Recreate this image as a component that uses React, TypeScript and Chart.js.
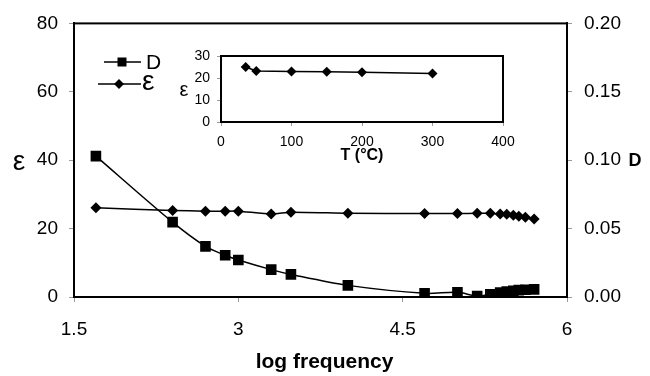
import React, { useEffect, useRef } from "react";
import { Chart, registerables } from "chart.js";
Chart.register(...registerables);

// ---- data ----
const logFreq = [1.7, 2.4, 2.7, 2.88, 3.0, 3.3, 3.48, 4.0, 4.7, 5.0, 5.18, 5.3, 5.39, 5.45, 5.51, 5.56, 5.62, 5.7];
const epsMain = [26.1, 25.3, 25.1, 25.1, 25.1, 24.3, 24.8, 24.5, 24.4, 24.4, 24.5, 24.5, 24.3, 24.2, 23.9, 23.6, 23.3, 22.8];
const dMain = [0.103, 0.0547, 0.037, 0.0305, 0.027, 0.02, 0.0165, 0.0085, 0.0027, 0.0034, 0.0007, 0.002, 0.0033, 0.004, 0.0045, 0.005, 0.0053, 0.0056];

const insetT = [35, 50, 100, 150, 200, 300];
const insetEps = [25.0, 23.2, 23.0, 22.8, 22.6, 22.1];

const xTitle = "log frequency";
const leftTitle = "ε";
const rightTitle = "D";
const insetXTitle = "T (°C)";
const insetYTitle = "ε";
const legendLabels = ["D", "ε"];

const FONT = "'Liberation Sans', Arial, Helvetica, sans-serif";

export default function App() {
  const mainRef = useRef<HTMLCanvasElement>(null);
  const insetRef = useRef<HTMLCanvasElement>(null);

  useEffect(() => {
    const tickFont = { family: FONT, size: 19 };
    const grid = { drawOnChartArea: false, drawTicks: true, tickLength: 5, tickColor: "#9a9a9a" };
    const border = { color: "#000", width: 2 };

    const mainPlugin = {
      id: "mainDecor",
      afterDraw(chart: any) {
        const { ctx, chartArea: a } = chart;
        ctx.save();
        ctx.strokeStyle = "#000";
        ctx.lineWidth = 2;
        ctx.strokeRect(a.left, a.top, a.right - a.left, a.bottom - a.top);
        ctx.fillStyle = "#000";
        ctx.textAlign = "center";
        ctx.textBaseline = "middle";
        ctx.font = `bold 21px ${FONT}`;
        ctx.fillText(xTitle, (a.left + a.right) / 2 + 4, 362);
        ctx.font = `28px ${FONT}`;
        ctx.fillText(leftTitle, 19, 162);
        ctx.font = `bold 18px ${FONT}`;
        ctx.fillText(rightTitle, 635, 161);
        // legend
        ctx.lineWidth = 1.5;
        ctx.beginPath();
        ctx.moveTo(104, 62);
        ctx.lineTo(141, 62);
        ctx.moveTo(98, 84);
        ctx.lineTo(141, 84);
        ctx.stroke();
        ctx.fillRect(122 - 4.5, 62 - 4.5, 9, 9);
        ctx.beginPath();
        ctx.moveTo(119, 84 - 5);
        ctx.lineTo(119 + 5, 84);
        ctx.lineTo(119, 84 + 5);
        ctx.lineTo(119 - 5, 84);
        ctx.closePath();
        ctx.fill();
        ctx.textAlign = "left";
        ctx.font = `21px ${FONT}`;
        ctx.fillText(legendLabels[0], 146, 63);
        ctx.font = `28px ${FONT}`;
        ctx.fillText(legendLabels[1], 142, 82);
        ctx.restore();
      },
    };

    const main = new Chart(mainRef.current!, {
      type: "line",
      data: {
        datasets: [
          {
            label: "D",
            data: logFreq.map((x, i) => ({ x, y: dMain[i] })),
            yAxisID: "y1",
            borderColor: "#000",
            backgroundColor: "#000",
            borderWidth: 1.5,
            pointStyle: "rect",
            pointRadius: 7.5,
            pointBorderWidth: 0,
            tension: 0.3,
          },
          {
            label: "ε",
            data: logFreq.map((x, i) => ({ x, y: epsMain[i] })),
            yAxisID: "y",
            borderColor: "#000",
            backgroundColor: "#000",
            borderWidth: 1.5,
            pointStyle: "rectRot",
            pointRadius: 5.5,
            pointBorderWidth: 0,
            tension: 0.2,
          },
        ],
      },
      options: {
        responsive: false,
        animation: false,
        layout: { padding: { top: 22, left: 0, right: 0, bottom: 0 } },
        plugins: { legend: { display: false }, tooltip: { enabled: false } },
        scales: {
          x: {
            type: "linear",
            min: 1.5,
            max: 6,
            ticks: { stepSize: 1.5, font: tickFont, color: "#000", padding: 16, callback: (v: any) => String(v) },
            grid,
            border,
            afterFit: (s: any) => { s.height = 79; },
          },
          y: {
            position: "left",
            min: 0,
            max: 80,
            ticks: { stepSize: 20, font: tickFont, color: "#000", padding: 11 },
            grid,
            border,
            afterFit: (s: any) => { s.width = 74; },
          },
          y1: {
            position: "right",
            min: 0,
            max: 0.2,
            ticks: { stepSize: 0.05, font: tickFont, color: "#000", padding: 12, callback: (v: any) => Number(v).toFixed(2) },
            grid,
            border,
            afterFit: (s: any) => { s.width = 83; },
          },
        },
      },
      plugins: [mainPlugin],
    } as any);

    const insetFont = { family: FONT, size: 14 };
    const insetGrid = { drawOnChartArea: false, drawTicks: true, tickLength: 4, tickColor: "#9a9a9a" };
    const insetPlugin = {
      id: "insetDecor",
      beforeDraw(chart: any) {
        const { ctx, chartArea: a } = chart;
        ctx.save();
        ctx.fillStyle = "#fff";
        ctx.fillRect(a.left, a.top, a.right - a.left, a.bottom - a.top);
        ctx.restore();
      },
      afterDraw(chart: any) {
        const { ctx, chartArea: a } = chart;
        ctx.save();
        ctx.strokeStyle = "#000";
        ctx.lineWidth = 2;
        ctx.strokeRect(a.left, a.top, a.right - a.left, a.bottom - a.top);
        ctx.fillStyle = "#000";
        ctx.textAlign = "center";
        ctx.textBaseline = "middle";
        ctx.font = `bold 16px ${FONT}`;
        ctx.fillText(insetXTitle, (a.left + a.right) / 2, 156);
        ctx.font = `20px ${FONT}`;
        ctx.fillText(insetYTitle, 184, 90);
        ctx.restore();
      },
    };

    const inset = new Chart(insetRef.current!, {
      type: "line",
      data: {
        datasets: [
          {
            label: "ε",
            data: insetT.map((x, i) => ({ x, y: insetEps[i] })),
            borderColor: "#000",
            backgroundColor: "#000",
            borderWidth: 1.5,
            pointStyle: "rectRot",
            pointRadius: 5,
            pointBorderWidth: 0,
            tension: 0,
          },
        ],
      },
      options: {
        responsive: false,
        animation: false,
        layout: { padding: { top: 56, left: 0, right: 147, bottom: 0 } },
        plugins: { legend: { display: false }, tooltip: { enabled: false } },
        scales: {
          x: {
            type: "linear",
            min: 0,
            max: 400,
            ticks: { stepSize: 100, font: insetFont, color: "#000", padding: 8 },
            grid: insetGrid,
            border,
            afterFit: (s: any) => { s.height = 254; },
          },
          y: {
            min: 0,
            max: 30,
            ticks: { stepSize: 10, font: insetFont, color: "#000", padding: 7 },
            grid: insetGrid,
            border,
            afterFit: (s: any) => { s.width = 221; },
          },
        },
      },
      plugins: [insetPlugin],
    } as any);

    return () => {
      main.destroy();
      inset.destroy();
    };
  }, []);

  const canvasStyle: React.CSSProperties = { position: "absolute", left: 0, top: 0, width: 650, height: 376 };
  return (
    <div style={{ position: "fixed", left: 0, top: 0, width: 650, height: 376, background: "#fff" }}>
      <canvas ref={mainRef} width={650} height={376} style={canvasStyle} />
      <canvas ref={insetRef} width={650} height={376} style={canvasStyle} />
    </div>
  );
}
